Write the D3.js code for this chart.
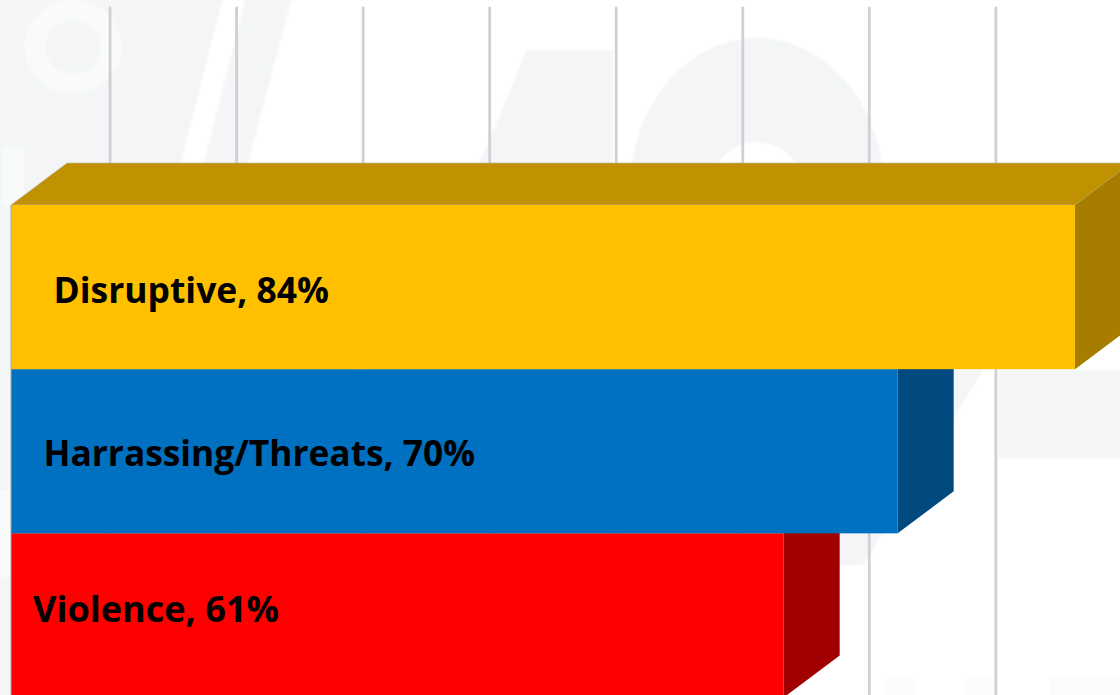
<!DOCTYPE html>
<html>
<head>
<meta charset="utf-8">
<script src="https://cdn.jsdelivr.net/npm/d3@7"></script>
<style>
  html, body { margin: 0; padding: 0; background: #fff; }
  svg { display: block; }
  .grid .domain, .grid text { display: none; }
  .grid line { stroke: #cfd0d3; stroke-width: 2.8; stroke-linecap: round; }
  .label { font-family: "Open Sans", sans-serif; font-weight: 700; fill: #000; }
</style>
</head>
<body>
<div id="chart"></div>
<script>
// Chart values
const categories = ["Disruptive", "Harrassing/Threats", "Violence"];
const values = [84, 70, 61];
const gridTicks = [3.36, 13.35, 23.34, 33.33, 43.32, 53.31, 63.3, 73.29];

// Colours per bar: front, top, side
const frontColors = ["#ffc000", "#0070c0", "#ff0000"];
const topColors = ["#c09100", "#005490", "#bf0000"];
const sideColors = ["#a77d00", "#004a80", "#a00000"];

// Dimensions
const width = 1120, height = 695;
const depthX = 56, depthY = 42;

const x = d3.scaleLinear().domain([0, 100]).range([11, 1277.7]);
const y = d3.scaleBand().domain(categories).range([205, 697.5]);

const svg = d3.select("#chart").append("svg")
    .attr("width", width)
    .attr("height", height);

svg.append("filter")
    .attr("id", "soft")
    .attr("x", "-5%").attr("y", "-5%").attr("width", "110%").attr("height", "110%")
  .append("feGaussianBlur")
    .attr("stdDeviation", 1.2);

// Faint watermark behind the chart
const wm = "#f3f5f7", wmLight = "#f9fafa", wmFaint = "#fbfbfc";
const backdrop = svg.append("g").attr("filter", "url(#soft)");
[
  ["M-10,-10H225L170,205H-10Z", wm],
  ["M-10,205H11V700H-10Z", wm],
  ["M248,-10H294L248,163L236,205H193Z", wm],
  ["M2,147H24V205H2Z", wmLight],
  ["M-10,490H11V577H-10Z", wmLight],
  ["M527,50H613V210H460Z", wm],
  ["M998,370H1130V458H998Z", wm],
  ["M830,370H983L863,565H830Z", wm],
  ["M885,677H915V700H885Z", wmFaint],
  ["M965,677H995V700H965Z", wmFaint],
  ["M1050,677H1130V700H1050Z", wmFaint]
].forEach(([d, fill]) => backdrop.append("path").attr("d", d).attr("fill", fill));

backdrop.append("ellipse")
    .attr("cx", 73).attr("cy", 47).attr("rx", 38).attr("ry", 37)
    .attr("fill", "none").attr("stroke", wmLight).attr("stroke-width", 21);
backdrop.append("ellipse")
    .attr("cx", 757).attr("cy", 190).attr("rx", 127).attr("ry", 152)
    .attr("fill", wm);
backdrop.append("ellipse")
    .attr("cx", 757).attr("cy", 190).attr("rx", 47).attr("ry", 48)
    .attr("fill", "#fff");

// Gridlines sit on the back wall, so they are shifted by the bar depth
svg.append("g")
    .attr("class", "grid")
    .attr("transform", `translate(${depthX},8)`)
    .call(d3.axisBottom(x).tickValues(gridTicks).tickSize(height));

// Draw from the bottom bar up, each one covers the hidden part of the one below
const bars = svg.selectAll(".bar")
    .data(categories.map((c, i) => ({ c, v: values[i], i })).reverse())
  .enter().append("g")
    .attr("class", "bar");

// Top face
bars.append("path")
    .attr("d", d => {
      const x1 = x(d.v), y0 = y(d.c);
      return `M${x(0)},${y0}L${x(0) + depthX},${y0 - depthY}H${x1 + depthX}L${x1},${y0}Z`;
    })
    .attr("fill", d => topColors[d.i])
    .attr("stroke", "#b9b9b9")
    .attr("stroke-width", 0.6);

// Side face
bars.append("path")
    .attr("d", d => {
      const x1 = x(d.v), y0 = y(d.c), y1 = y0 + y.bandwidth();
      return `M${x1},${y0}L${x1 + depthX},${y0 - depthY}V${y1 - depthY}L${x1},${y1}Z`;
    })
    .attr("fill", d => sideColors[d.i]);

// Front face
bars.append("rect")
    .attr("x", x(0))
    .attr("y", d => y(d.c))
    .attr("width", d => x(d.v) - x(0))
    .attr("height", y.bandwidth())
    .attr("fill", d => frontColors[d.i]);

// Thin grey edge down the left side of each bar
bars.append("line")
    .attr("x1", x(0)).attr("x2", x(0))
    .attr("y1", d => y(d.c))
    .attr("y2", d => y(d.c) + y.bandwidth())
    .attr("stroke", "#a6a6a6")
    .attr("stroke-width", 1);

// Data labels, placed by hand in the original
const labelX = [53.5, 43.5, 33];
const labelBase = [302.5, 465.5, 621.5];
const labelLen = [275.5, 431.5, 246];

svg.selectAll(".label")
    .data(categories)
  .enter().append("text")
    .attr("class", "label")
    .attr("x", (d, i) => labelX[i])
    .attr("y", (d, i) => labelBase[i])
    .attr("font-size", 35)
    .attr("textLength", (d, i) => labelLen[i])
    .attr("lengthAdjust", "spacingAndGlyphs")
    .text((d, i) => `${d}, ${values[i]}%`);
</script>
</body>
</html>
